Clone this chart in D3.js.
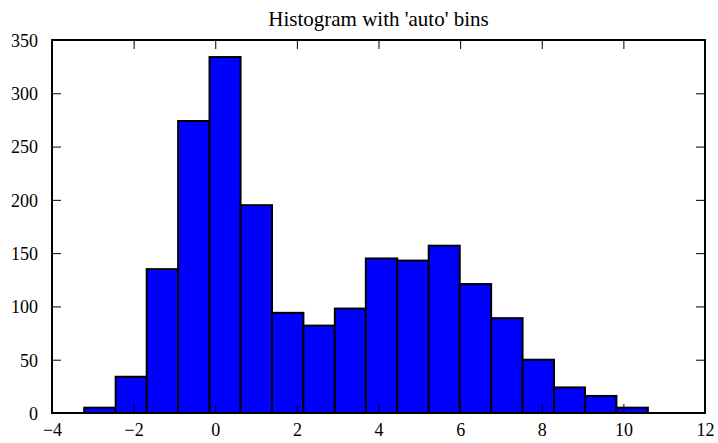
<!DOCTYPE html>
<html><head><meta charset="utf-8">
<script src="https://cdn.jsdelivr.net/npm/d3@7"></script>
<style>body{margin:0;background:#fff}</style>
</head><body><svg id="c" width="718" height="443"></svg>
<script>
const binEdges = [-3.21,-2.44,-1.68,-0.91,-0.14,0.62,1.39,2.16,2.93,3.69,4.46,5.23,5.99,6.76,7.53,8.30,9.06,9.83,10.60];
const counts = [5,34,135,274,334,195,94,82,98,145,143,157,121,89,50,24,16,5];
const xTicks = [-4,-2,0,2,4,6,8,10,12];
const yTicks = [0,50,100,150,200,250,300,350];
const title = "Histogram with 'auto' bins";

const FONT = "'Liberation Serif','Times New Roman',serif";
const svg = d3.select("#c").style("font-family",FONT);
const L=52,R=705,T=40,B=413;
const x = d3.scaleLinear().domain([-4,12]).range([L,R]);
const y = d3.scaleLinear().domain([0,350]).range([B,T]);

const bins = counts.map((c,i)=>({x0:binEdges[i],x1:binEdges[i+1],c}));
svg.append("g").selectAll("rect").data(bins).join("rect")
  .attr("x",d=>x(d.x0)).attr("width",d=>x(d.x1)-x(d.x0))
  .attr("y",d=>y(d.c)).attr("height",d=>y(0)-y(d.c))
  .attr("fill","#0000ff").attr("stroke","#000").attr("stroke-width",2);

const tl=9;
const fmt = d=> d<0 ? "\u2212"+Math.abs(d) : String(d);
const gb = svg.append("g").attr("transform",`translate(0,${B})`)
  .call(d3.axisBottom(x).tickValues(xTicks).tickSize(-tl).tickPadding(10).tickFormat(fmt));
const gt = svg.append("g").attr("transform",`translate(0,${T})`)
  .call(d3.axisTop(x).tickValues(xTicks).tickSize(-tl).tickFormat(""));
const gl = svg.append("g").attr("transform",`translate(${L},0)`)
  .call(d3.axisLeft(y).tickValues(yTicks).tickSize(-tl).tickPadding(14));
const gr = svg.append("g").attr("transform",`translate(${R},0)`)
  .call(d3.axisRight(y).tickValues(yTicks).tickSize(-tl).tickFormat(""));
[gb,gt,gl,gr].forEach(g=>{
  g.attr("font-family",null).attr("font-size",null);
  g.select(".domain").remove();
  g.selectAll(".tick line").attr("stroke","#000").attr("stroke-width",1);
  g.selectAll("text").style("font-family",FONT).style("font-size","18px").attr("fill","#000");
});
gl.selectAll("text").attr("dy","0.35em");

svg.append("rect").attr("x",L).attr("y",T).attr("width",R-L).attr("height",B-T)
  .attr("fill","none").attr("stroke","#000").attr("stroke-width",2);

svg.append("text").attr("x",(L+R)/2).attr("y",26).attr("text-anchor","middle")
  .style("font-family",FONT).style("font-size","21px").attr("fill","#000").text(title);
</script></body></html>
